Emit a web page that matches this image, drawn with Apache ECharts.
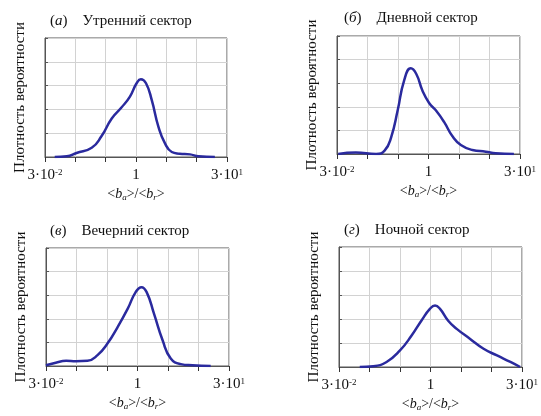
<!DOCTYPE html>
<html>
<head>
<meta charset="utf-8">
<script src="https://cdn.jsdelivr.net/npm/echarts@6/dist/echarts.min.js"></script>
<style>
html,body{margin:0;padding:0;background:#fff;}
#c{width:541px;height:416px;}
</style>
</head>
<body>
<div id="c"></div>
<script>
// x values are log10(<ba>/<br>)
var panelTags = ['а', 'б', 'в', 'г'];
var panelTitles = ['Утренний сектор', 'Дневной сектор', 'Вечерний сектор', 'Ночной сектор'];
var yAxisName = 'Плотность вероятности';
var xTickLabels = {'-1.5': ['3·10', '-2'], '0': ['1', ''], '1.5': ['3·10', '1']};

var xA = [-1.34, -1.14, -0.98, -0.73, -0.57, -0.40, -0.24, -0.10, 0.01, 0.08, 0.165, 0.26, 0.37, 0.48, 0.59, 0.72, 0.89, 1.03, 1.30];
var yA = [0, 0.03, 0.17, 0.39, 0.87, 1.62, 2.08, 2.54, 3.10, 3.27, 3.10, 2.39, 1.27, 0.56, 0.21, 0.14, 0.11, 0.03, 0];

var xB = [-1.48, -1.19, -0.86, -0.72, -0.61, -0.505, -0.40, -0.29, -0.20, -0.10, 0.01, 0.12, 0.255, 0.39, 0.53, 0.72, 0.94, 1.10, 1.40];
var yB = [0, 0.06, 0, 0.14, 0.73, 1.85, 3.11, 3.63, 3.39, 2.69, 2.16, 1.85, 1.36, 0.76, 0.38, 0.17, 0.10, 0.03, 0];

var xC = [-1.50, -1.34, -1.17, -1.01, -0.82, -0.655, -0.49, -0.33, -0.16, -0.03, 0.065, 0.15, 0.27, 0.41, 0.545, 0.71, 0.90, 1.20];
var yC = [0.03, 0.14, 0.22, 0.20, 0.22, 0.46, 0.96, 1.63, 2.43, 3.13, 3.34, 3.13, 2.22, 1.10, 0.32, 0.08, 0.03, 0];

var xD = [-1.16, -0.94, -0.72, -0.50, -0.31, -0.15, -0.01, 0.074, 0.156, 0.29, 0.43, 0.65, 0.87, 1.09, 1.31, 1.47];
var yD = [0, 0.03, 0.21, 0.69, 1.31, 1.93, 2.42, 2.56, 2.42, 1.93, 1.59, 1.17, 0.76, 0.48, 0.21, 0];

var xs = [xA, xB, xC, xD];
var ys = [yA, yB, yC, yD];

var serif = '"Liberation Serif", "DejaVu Serif", serif';
var grids = [
  {left: 45, top: 38, width: 182, height: 119},
  {left: 337, top: 36, width: 183, height: 118},
  {left: 46, top: 248, width: 183, height: 118},
  {left: 339, top: 247, width: 183, height: 120}
];
var titlePos = [
  {left: 50, top: 12},
  {left: 344, top: 9},
  {left: 50, top: 222},
  {left: 344, top: 221}
];

var option = {
  backgroundColor: '#fff',
  animation: false,
  title: [],
  grid: [],
  xAxis: [],
  yAxis: [],
  series: []
};

for (var i = 0; i < 4; i++) {
  option.title.push({
    left: titlePos[i].left, top: titlePos[i].top, padding: 0,
    text: '{t|(}{i|' + panelTags[i] + '}{t|)}   {t|' + panelTitles[i] + '}',
    textStyle: {
      fontWeight: 'normal',
      rich: {
        t: {fontFamily: serif, fontSize: 15, fontWeight: 'normal', color: '#111'},
        i: {fontFamily: serif, fontSize: 15, fontWeight: 'normal', fontStyle: 'italic', color: '#111'}
      }
    }
  });
  option.grid.push({
    left: grids[i].left, top: grids[i].top, width: grids[i].width, height: grids[i].height,
    show: true, borderColor: '#555', borderWidth: 1, backgroundColor: 'transparent'
  });
  option.xAxis.push({
    type: 'value', gridIndex: i, min: -1.5, max: 1.5, interval: 0.5,
    name: '<{bi|b}{sub|a}>/<{bi|b}{sub|r}>',
    nameLocation: 'middle', nameGap: 30,
    nameTextStyle: {
      fontFamily: serif, fontSize: 14, color: '#111',
      rich: {
        bi: {fontFamily: serif, fontSize: 14, fontStyle: 'italic', color: '#111'},
        sub: {fontFamily: serif, fontSize: 9, fontStyle: 'italic', color: '#111', verticalAlign: 'bottom', padding: [6, 0, 0, 0]}
      }
    },
    axisLine: {show: true, onZero: false, lineStyle: {color: '#555', width: 1}},
    axisTick: {show: true, inside: false, length: 5, lineStyle: {color: '#333'}},
    splitLine: {show: true, lineStyle: {color: '#d2d2d2', width: 1}},
    axisLabel: {
      show: true, margin: 11, showMinLabel: true, showMaxLabel: true,
      fontFamily: serif, fontSize: 15, color: '#111',
      formatter: function (v) {
        var key = String(Math.round(v * 10) / 10);
        if (key === '-0') key = '0';
        var t = xTickLabels[key];
        if (!t) return '';
        return t[1] ? '{n|' + t[0] + '}{sup|' + t[1] + '}' : '{n|' + t[0] + '}';
      },
      rich: {
        n: {fontFamily: serif, fontSize: 15, color: '#111'},
        sup: {fontFamily: serif, fontSize: 9, color: '#111', verticalAlign: 'top', padding: [0, 0, 6, 0]}
      }
    }
  });
  option.yAxis.push({
    type: 'value', gridIndex: i, min: 0, max: 5, interval: 1,
    name: yAxisName, nameLocation: 'middle', nameGap: 17, nameRotate: 90,
    nameTextStyle: {fontFamily: serif, fontSize: 15, color: '#111'},
    axisLine: {show: true, onZero: false, lineStyle: {color: '#555', width: 1}},
    axisTick: {show: true, inside: true, length: 3, lineStyle: {color: '#555'}},
    splitLine: {show: true, lineStyle: {color: '#d2d2d2', width: 1}},
    axisLabel: {show: false}
  });
  var data = [];
  for (var k = 0; k < xs[i].length; k++) data.push([xs[i][k], ys[i][k]]);
  option.series.push({
    type: 'line', xAxisIndex: i, yAxisIndex: i, data: data,
    smooth: 0.5, showSymbol: false, symbol: 'none',
    lineStyle: {color: '#2a2a9e', width: 2.5},
    z: 5
  });
}

var chart = echarts.init(document.getElementById('c'), null, {renderer: 'canvas'});
chart.setOption(option);
</script>
</body>
</html>
